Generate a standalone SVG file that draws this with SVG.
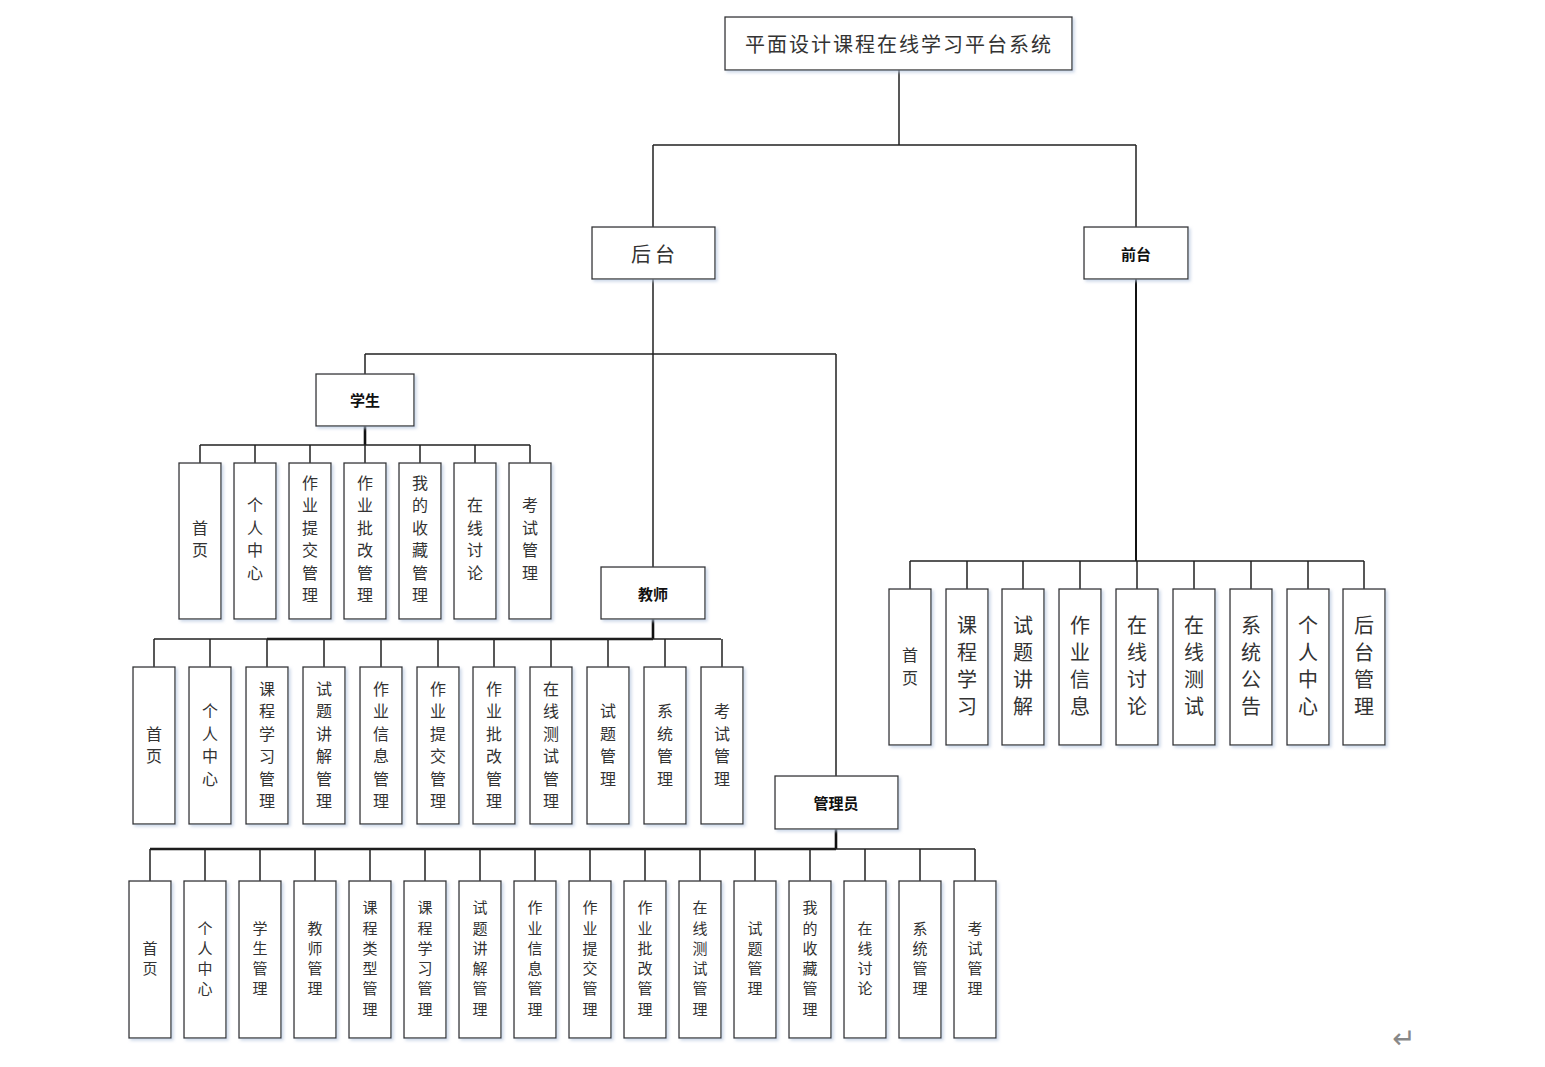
<svg xmlns="http://www.w3.org/2000/svg" width="1545" height="1067" viewBox="0 0 1545 1067">
<defs>
<filter id="sh" x="-20%" y="-10%" width="140%" height="120%">
<feDropShadow dx="2" dy="2" stdDeviation="1.5" flood-color="#b8c8e0" flood-opacity="0.7"/>
</filter>
<style>
.box{fill:#fff;stroke:#333;stroke-width:1.3;filter:url(#sh)}
.t{font-family:"Noto Sans CJK SC","Noto Sans",sans-serif;fill:#333;text-anchor:middle;dominant-baseline:central}
.b{font-weight:bold;fill:#111;font-size:15px}
.s16{font-size:16px}
.s15{font-size:15px}
.s20{font-size:20px}
.ln{fill:none;stroke:#222;stroke-width:1.5}
.th{fill:none;stroke:#111;stroke-width:2.6}
</style>
</defs>
<rect width="1545" height="1067" fill="#fff"/>
<g id="connectors">
<path class="ln" d="M899 70V145M653 145H1136M653 145V227M1136 145V227"/>
<path class="ln" d="M653 279V567M365 354H836M365 354V374M836 354V776"/>
<path class="th" d="M365 426V445"/>
<path class="ln" d="M200 445H530M200 445V463M255 445V463M310 445V463M365 445V463M420 445V463M475 445V463M530 445V463"/>
<path class="th" d="M653 619V639M267 639H653"/>
<path class="ln" d="M154 639H721M154 639V667M210 639V667M267 639V667M324 639V667M381 639V667M438 639V667M494 639V667M551 639V667M608 639V667M665 639V667M722 639V667"/>
<path class="th" d="M836 829V849M150 849H836"/>
<path class="ln" d="M150 849H975M150 849V881M205 849V881M260 849V881M315 849V881M370 849V881M425 849V881M480 849V881M535 849V881M590 849V881M645 849V881M700 849V881M755 849V881M810 849V881M865 849V881M920 849V881M975 849V881"/>
<path class="th" d="M1136 279V561" style="stroke-width:2"/>
<path class="ln" d="M910 561H1364M910 561V589M967 561V589M1023 561V589M1080 561V589M1137 561V589M1194 561V589M1251 561V589M1308 561V589M1364 561V589"/>
</g>
<g id="root"><rect class="box" x="725" y="17" width="347" height="53"/><text class="t s20" x="899" y="43" letter-spacing="2">平面设计课程在线学习平台系统</text></g>
<g id="houtai"><rect class="box" x="592" y="227" width="123" height="52"/><text class="t s20" x="655" y="253" letter-spacing="4">后台</text></g>
<g id="qiantai"><rect class="box" x="1084" y="227" width="104" height="52"/><text class="t b" x="1136" y="253">前台</text></g>
<g id="xuesheng"><rect class="box" x="316" y="374" width="98" height="52"/><text class="t b" x="365" y="399">学生</text></g>
<g id="jiaoshi"><rect class="box" x="601" y="567" width="104" height="52"/><text class="t b" x="653" y="593">教师</text></g>
<g id="guanliyuan"><rect class="box" x="775" y="776" width="123" height="53"/><text class="t b" x="836" y="802">管理员</text></g>

<!-- student leaves -->
<g id="s1"><rect class="box" x="179" y="463" width="42" height="156"/><text class="t s16"><tspan x="200" y="527">首</tspan><tspan x="200" y="549">页</tspan></text></g>
<g id="s2"><rect class="box" x="234" y="463" width="42" height="156"/><text class="t s16"><tspan x="255" y="504">个</tspan><tspan x="255" y="527">人</tspan><tspan x="255" y="549">中</tspan><tspan x="255" y="572">心</tspan></text></g>
<g id="s3"><rect class="box" x="289" y="463" width="42" height="156"/><text class="t s16"><tspan x="310" y="482">作</tspan><tspan x="310" y="504">业</tspan><tspan x="310" y="527">提</tspan><tspan x="310" y="549">交</tspan><tspan x="310" y="572">管</tspan><tspan x="310" y="594">理</tspan></text></g>
<g id="s4"><rect class="box" x="344" y="463" width="42" height="156"/><text class="t s16"><tspan x="365" y="482">作</tspan><tspan x="365" y="504">业</tspan><tspan x="365" y="527">批</tspan><tspan x="365" y="549">改</tspan><tspan x="365" y="572">管</tspan><tspan x="365" y="594">理</tspan></text></g>
<g id="s5"><rect class="box" x="399" y="463" width="42" height="156"/><text class="t s16"><tspan x="420" y="482">我</tspan><tspan x="420" y="504">的</tspan><tspan x="420" y="527">收</tspan><tspan x="420" y="549">藏</tspan><tspan x="420" y="572">管</tspan><tspan x="420" y="594">理</tspan></text></g>
<g id="s6"><rect class="box" x="454" y="463" width="42" height="156"/><text class="t s16"><tspan x="475" y="504">在</tspan><tspan x="475" y="527">线</tspan><tspan x="475" y="549">讨</tspan><tspan x="475" y="572">论</tspan></text></g>
<g id="s7"><rect class="box" x="509" y="463" width="42" height="156"/><text class="t s16"><tspan x="530" y="504">考</tspan><tspan x="530" y="527">试</tspan><tspan x="530" y="549">管</tspan><tspan x="530" y="572">理</tspan></text></g>

<!-- teacher leaves -->
<g id="t1"><rect class="box" x="133" y="667" width="42" height="157"/><text class="t s16"><tspan x="154" y="733">首</tspan><tspan x="154" y="755">页</tspan></text></g>
<g id="t2"><rect class="box" x="189" y="667" width="42" height="157"/><text class="t s16"><tspan x="210" y="710">个</tspan><tspan x="210" y="733">人</tspan><tspan x="210" y="755">中</tspan><tspan x="210" y="778">心</tspan></text></g>
<g id="t3"><rect class="box" x="246" y="667" width="42" height="157"/><text class="t s16"><tspan x="267" y="688">课</tspan><tspan x="267" y="710">程</tspan><tspan x="267" y="733">学</tspan><tspan x="267" y="755">习</tspan><tspan x="267" y="778">管</tspan><tspan x="267" y="800">理</tspan></text></g>
<g id="t4"><rect class="box" x="303" y="667" width="42" height="157"/><text class="t s16"><tspan x="324" y="688">试</tspan><tspan x="324" y="710">题</tspan><tspan x="324" y="733">讲</tspan><tspan x="324" y="755">解</tspan><tspan x="324" y="778">管</tspan><tspan x="324" y="800">理</tspan></text></g>
<g id="t5"><rect class="box" x="360" y="667" width="42" height="157"/><text class="t s16"><tspan x="381" y="688">作</tspan><tspan x="381" y="710">业</tspan><tspan x="381" y="733">信</tspan><tspan x="381" y="755">息</tspan><tspan x="381" y="778">管</tspan><tspan x="381" y="800">理</tspan></text></g>
<g id="t6"><rect class="box" x="417" y="667" width="42" height="157"/><text class="t s16"><tspan x="438" y="688">作</tspan><tspan x="438" y="710">业</tspan><tspan x="438" y="733">提</tspan><tspan x="438" y="755">交</tspan><tspan x="438" y="778">管</tspan><tspan x="438" y="800">理</tspan></text></g>
<g id="t7"><rect class="box" x="473" y="667" width="42" height="157"/><text class="t s16"><tspan x="494" y="688">作</tspan><tspan x="494" y="710">业</tspan><tspan x="494" y="733">批</tspan><tspan x="494" y="755">改</tspan><tspan x="494" y="778">管</tspan><tspan x="494" y="800">理</tspan></text></g>
<g id="t8"><rect class="box" x="530" y="667" width="42" height="157"/><text class="t s16"><tspan x="551" y="688">在</tspan><tspan x="551" y="710">线</tspan><tspan x="551" y="733">测</tspan><tspan x="551" y="755">试</tspan><tspan x="551" y="778">管</tspan><tspan x="551" y="800">理</tspan></text></g>
<g id="t9"><rect class="box" x="587" y="667" width="42" height="157"/><text class="t s16"><tspan x="608" y="710">试</tspan><tspan x="608" y="733">题</tspan><tspan x="608" y="755">管</tspan><tspan x="608" y="778">理</tspan></text></g>
<g id="t10"><rect class="box" x="644" y="667" width="42" height="157"/><text class="t s16"><tspan x="665" y="710">系</tspan><tspan x="665" y="733">统</tspan><tspan x="665" y="755">管</tspan><tspan x="665" y="778">理</tspan></text></g>
<g id="t11"><rect class="box" x="701" y="667" width="42" height="157"/><text class="t s16"><tspan x="722" y="710">考</tspan><tspan x="722" y="733">试</tspan><tspan x="722" y="755">管</tspan><tspan x="722" y="778">理</tspan></text></g>

<!-- admin leaves -->
<g id="a1"><rect class="box" x="129" y="881" width="42" height="157"/><text class="t s15"><tspan x="150" y="947">首</tspan><tspan x="150" y="967">页</tspan></text></g>
<g id="a2"><rect class="box" x="184" y="881" width="42" height="157"/><text class="t s15"><tspan x="205" y="927">个</tspan><tspan x="205" y="947">人</tspan><tspan x="205" y="967">中</tspan><tspan x="205" y="987">心</tspan></text></g>
<g id="a3"><rect class="box" x="239" y="881" width="42" height="157"/><text class="t s15"><tspan x="260" y="927">学</tspan><tspan x="260" y="947">生</tspan><tspan x="260" y="967">管</tspan><tspan x="260" y="987">理</tspan></text></g>
<g id="a4"><rect class="box" x="294" y="881" width="42" height="157"/><text class="t s15"><tspan x="315" y="927">教</tspan><tspan x="315" y="947">师</tspan><tspan x="315" y="967">管</tspan><tspan x="315" y="987">理</tspan></text></g>
<g id="a5"><rect class="box" x="349" y="881" width="42" height="157"/><text class="t s15"><tspan x="370" y="906">课</tspan><tspan x="370" y="927">程</tspan><tspan x="370" y="947">类</tspan><tspan x="370" y="967">型</tspan><tspan x="370" y="987">管</tspan><tspan x="370" y="1008">理</tspan></text></g>
<g id="a6"><rect class="box" x="404" y="881" width="42" height="157"/><text class="t s15"><tspan x="425" y="906">课</tspan><tspan x="425" y="927">程</tspan><tspan x="425" y="947">学</tspan><tspan x="425" y="967">习</tspan><tspan x="425" y="987">管</tspan><tspan x="425" y="1008">理</tspan></text></g>
<g id="a7"><rect class="box" x="459" y="881" width="42" height="157"/><text class="t s15"><tspan x="480" y="906">试</tspan><tspan x="480" y="927">题</tspan><tspan x="480" y="947">讲</tspan><tspan x="480" y="967">解</tspan><tspan x="480" y="987">管</tspan><tspan x="480" y="1008">理</tspan></text></g>
<g id="a8"><rect class="box" x="514" y="881" width="42" height="157"/><text class="t s15"><tspan x="535" y="906">作</tspan><tspan x="535" y="927">业</tspan><tspan x="535" y="947">信</tspan><tspan x="535" y="967">息</tspan><tspan x="535" y="987">管</tspan><tspan x="535" y="1008">理</tspan></text></g>
<g id="a9"><rect class="box" x="569" y="881" width="42" height="157"/><text class="t s15"><tspan x="590" y="906">作</tspan><tspan x="590" y="927">业</tspan><tspan x="590" y="947">提</tspan><tspan x="590" y="967">交</tspan><tspan x="590" y="987">管</tspan><tspan x="590" y="1008">理</tspan></text></g>
<g id="a10"><rect class="box" x="624" y="881" width="42" height="157"/><text class="t s15"><tspan x="645" y="906">作</tspan><tspan x="645" y="927">业</tspan><tspan x="645" y="947">批</tspan><tspan x="645" y="967">改</tspan><tspan x="645" y="987">管</tspan><tspan x="645" y="1008">理</tspan></text></g>
<g id="a11"><rect class="box" x="679" y="881" width="42" height="157"/><text class="t s15"><tspan x="700" y="906">在</tspan><tspan x="700" y="927">线</tspan><tspan x="700" y="947">测</tspan><tspan x="700" y="967">试</tspan><tspan x="700" y="987">管</tspan><tspan x="700" y="1008">理</tspan></text></g>
<g id="a12"><rect class="box" x="734" y="881" width="42" height="157"/><text class="t s15"><tspan x="755" y="927">试</tspan><tspan x="755" y="947">题</tspan><tspan x="755" y="967">管</tspan><tspan x="755" y="987">理</tspan></text></g>
<g id="a13"><rect class="box" x="789" y="881" width="42" height="157"/><text class="t s15"><tspan x="810" y="906">我</tspan><tspan x="810" y="927">的</tspan><tspan x="810" y="947">收</tspan><tspan x="810" y="967">藏</tspan><tspan x="810" y="987">管</tspan><tspan x="810" y="1008">理</tspan></text></g>
<g id="a14"><rect class="box" x="844" y="881" width="42" height="157"/><text class="t s15"><tspan x="865" y="927">在</tspan><tspan x="865" y="947">线</tspan><tspan x="865" y="967">讨</tspan><tspan x="865" y="987">论</tspan></text></g>
<g id="a15"><rect class="box" x="899" y="881" width="42" height="157"/><text class="t s15"><tspan x="920" y="927">系</tspan><tspan x="920" y="947">统</tspan><tspan x="920" y="967">管</tspan><tspan x="920" y="987">理</tspan></text></g>
<g id="a16"><rect class="box" x="954" y="881" width="42" height="157"/><text class="t s15"><tspan x="975" y="927">考</tspan><tspan x="975" y="947">试</tspan><tspan x="975" y="967">管</tspan><tspan x="975" y="987">理</tspan></text></g>

<!-- front leaves -->
<g id="f1"><rect class="box" x="889" y="589" width="42" height="156"/><text class="t s16"><tspan x="910" y="654">首</tspan><tspan x="910" y="677">页</tspan></text></g>
<g id="f2"><rect class="box" x="946" y="589" width="42" height="156"/><text class="t s20"><tspan x="967" y="624">课</tspan><tspan x="967" y="651">程</tspan><tspan x="967" y="678">学</tspan><tspan x="967" y="705">习</tspan></text></g>
<g id="f3"><rect class="box" x="1002" y="589" width="42" height="156"/><text class="t s20"><tspan x="1023" y="624">试</tspan><tspan x="1023" y="651">题</tspan><tspan x="1023" y="678">讲</tspan><tspan x="1023" y="705">解</tspan></text></g>
<g id="f4"><rect class="box" x="1059" y="589" width="42" height="156"/><text class="t s20"><tspan x="1080" y="624">作</tspan><tspan x="1080" y="651">业</tspan><tspan x="1080" y="678">信</tspan><tspan x="1080" y="705">息</tspan></text></g>
<g id="f5"><rect class="box" x="1116" y="589" width="42" height="156"/><text class="t s20"><tspan x="1137" y="624">在</tspan><tspan x="1137" y="651">线</tspan><tspan x="1137" y="678">讨</tspan><tspan x="1137" y="705">论</tspan></text></g>
<g id="f6"><rect class="box" x="1173" y="589" width="42" height="156"/><text class="t s20"><tspan x="1194" y="624">在</tspan><tspan x="1194" y="651">线</tspan><tspan x="1194" y="678">测</tspan><tspan x="1194" y="705">试</tspan></text></g>
<g id="f7"><rect class="box" x="1230" y="589" width="42" height="156"/><text class="t s20"><tspan x="1251" y="624">系</tspan><tspan x="1251" y="651">统</tspan><tspan x="1251" y="678">公</tspan><tspan x="1251" y="705">告</tspan></text></g>
<g id="f8"><rect class="box" x="1287" y="589" width="42" height="156"/><text class="t s20"><tspan x="1308" y="624">个</tspan><tspan x="1308" y="651">人</tspan><tspan x="1308" y="678">中</tspan><tspan x="1308" y="705">心</tspan></text></g>
<g id="f9"><rect class="box" x="1343" y="589" width="42" height="156"/><text class="t s20"><tspan x="1364" y="624">后</tspan><tspan x="1364" y="651">台</tspan><tspan x="1364" y="678">管</tspan><tspan x="1364" y="705">理</tspan></text></g>

<text x="1404" y="1038" font-family="DejaVu Sans, sans-serif" font-size="28" fill="#888" text-anchor="middle" dominant-baseline="central">↵</text>
</svg>
